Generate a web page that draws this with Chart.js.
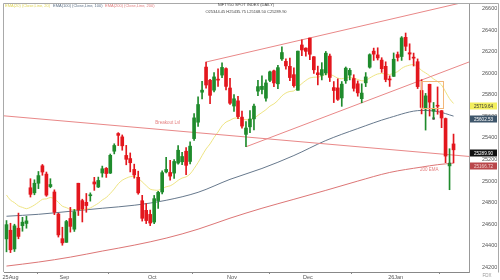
<!DOCTYPE html>
<html>
<head>
<meta charset="utf-8">
<script src="https://cdn.jsdelivr.net/npm/chart.js@4.4.1/dist/chart.umd.min.js"></script>
<style>
  html, body { margin: 0; padding: 0; background: #fff; }
  canvas { display: block; }
</style>
</head>
<body>
<canvas id="chart" width="500" height="280"></canvas>
<script>
// NIFTY 50 daily sessions, 7 Aug 2025 .. 22 Jan 2026 (session index 0..112)
const open = [
  24464,24544,24371,24563,24586,24607,24938,24891,24980,25142,25065,24949,24899,24695,24466,
  24432,24653,24554,24980,24819,24803,24864,24992,24945,25075,25118,25074,25277,25441,25410,25238,25209,25108,25035,24818,24729,24691,
  24620,24819,24899,25085,25080,25074,25167,25179,25277,25182,25394,25546,25824,26057,25935,25843,25939,25983,26043,25863,
  25696,25744,25593,25433,25503,25577,25834,25849,25769,25934,26022,25902,26133,26110,26064,25987,25842,26262,26233,
  26326,26153,26004,25981,26002,26159,25867,25864,25771,25930,25983,25951,25902,25764,25911,26056,26205,26170,26122,26064,25940,25971,
  26173,26155,26333,26190,26144,26107,25840,25669,25897,25648,25696,25653,25580,25141,25344.45
];
const high = [
  24634,24609,24600,24703,24664,24674,25022,25012,25089,25154,25084,25022,24919,24702,24572,
  24636,24756,24737,24980,24832,24885,24891,25035,25037,25139,25126,25251,25346,25449,25428,25331,25261,25157,25092,24868,24792,24731,
  24867,24904,25095,25220,25192,25199,25330,25267,25310,25365,25625,25781,25926,26104,25944,26005,26041,26097,26050,25953,
  25803,25787,25649,25551,25653,25715,25935,25975,25940,26020,26029,26074,26246,26133,26141,26051,26206,26310,26236,
  26326,26154,26066,26098,26202,26178,25923,25948,25923,26058,26044,25986,25929,25902,26006,26180,26233,26236,26144,26106,25976,26188,
  26197,26340,26373,26273,26187,26133,25940,25813,25899,25729,25873,25654,25585,25300,25435.75
];
const low = [
  24344,24337,24347,24465,24535,24563,24852,24873,24930,25054,24859,24938,24689,24481,24405,
  24432,24527,24533,24681,24621,24711,24814,24914,24940,25037,25034,25070,25252,25329,25286,25151,25085,25027,24878,24629,24606,24587,
  24605,24747,24881,25075,25009,25024,25156,25152,25060,25160,25376,25508,25763,25862,25718,25827,25877,25960,25845,25711,
  25645,25578,25491,25318,25449,25475,25792,25808,25740,25921,25876,25856,26118,26038,25930,25870,25842,26162,26158,
  26125,25998,25892,25938,25985,25923,25728,25748,25693,25906,25938,25834,25787,25726,25876,26047,26119,26123,26008,25921,25878,25970,
  26113,26119,26210,26124,26067,25858,25623,25473,25603,25580,25620,25495,25171,24920,25168.5
];
const close = [
  24596,24363,24585,24487,24619,24631,24877,24980,25051,25084,24870,24968,24712,24501,24427,
  24625,24580,24715,24734,24741,24773,24868,24973,25006,25114,25070,25239,25330,25424,25327,25202,25170,25057,24891,24655,24634,24611,
  24837,24895,25078,25108,25046,25182,25286,25228,25146,25324,25586,25710,25843,25891,25795,25966,25936,26054,25878,25722,
  25763,25598,25510,25492,25575,25695,25876,25879,25910,26013,25910,26052,26192,26068,25960,25885,26205,26216,26203,
  26176,26032,25986,26034,26186,25961,25840,25758,25899,26047,26027,25860,25818,25816,25966,26172,26177,26142,26042,25942,25938,26130,
  26146,26328,26250,26178,26140,25876,25683,25790,25732,25665,25694,25585,25232,25157,25289.9
];

// 20-day EMA for every session
const ema20 = [
  24871,24823,24800,24770,24756,24744,24757,24778,24804,24831,24835,24848,24835,24803,24767,
  24754,24737,24735,24735,24736,24739,24751,24772,24794,24825,24848,24885,24927,24975,25008,25027,25041,25042,25028,24992,24958,24925,
  24917,24915,24930,24947,24956,24978,25007,25028,25039,25066,25116,25172,25236,25298,25345,25404,25455,25512,25547,25564,
  25583,25584,25577,25569,25570,25582,25610,25636,25662,25695,25716,25748,25790,25817,25831,25836,25871,25904,25933,
  25956,25963,25965,25972,25992,25989,25975,25954,25949,25958,25965,25955,25942,25930,25933,25956,25977,25993,25998,25993,25988,26001,
  26015,26045,26064,26075,26081,26062,26026,26003,25977,25947,25923,25891,25828,25764,25719.64
];
// 100- and 200-day EMA, sampled sessions
const emaDays = [0, 8, 16, 24, 32, 40, 48, 56, 64, 72, 80, 88, 96, 104, 108, 112];
const ema100  = [24674,24692,24720,24748,24776,24822,24896,25016,25117,25237,25376,25487,25588,25655,25645,25602.53];
const ema200  = [24212,24249,24295,24351,24406,24471,24554,24656,24748,24831,24914,25000,25080,25130,25152,25166.72];

// month ticks on the time axis
const monthTickDays   = [1, 14.5, 36.5, 56.5, 75.5, 97.5];
const monthTickLabels = ['25Aug', 'Sep', 'Oct', 'Nov', 'Dec', '26Jan'];
// price ticks
const priceTicks = [24200,24400,24600,24800,25000,25200,25400,25600,25800,26000,26200,26400,26600];

// trend lines: anchor sessions and prices
const breakoutDays   = [0, 112];
const breakoutValues = [25603, 25241];
const channelTopDays = [50, 74];   // Oct 23 high -> Nov 27 high
const channelLowDays = [60, 89];   // Nov 7 low -> Dec 18 low

// consolidation box (sessions, prices)
const boxDays   = [103.75, 109.25];
const boxValues = [25930, 25681];

// marked points
const markDays   = [107, 111];
const markValues = [25580, 25160];

const X_MIN = -0.625, X_MAX = 115.875;
const UP = '#1f8b2c', DOWN = '#e3161d';
const sessions = close.map((_, i) => i);
const candleColor = sessions.map(i => close[i] >= open[i] ? UP : DOWN);

function extendLine(days, values, from, to) {
  const k = (values[1] - values[0]) / (days[1] - days[0]);
  return [from, to].map(x => ({ x, y: values[0] + k * (x - days[0]) }));
}
const last = close.length - 1;

const FONT = '"Liberation Sans", Arial, sans-serif';
Chart.defaults.font.family = FONT;

const overlay = {
  id: 'overlay',
  beforeDraw(chart) {
    const { ctx, width, height } = chart;
    ctx.save();
    ctx.fillStyle = '#fff';
    ctx.fillRect(0, 0, width, height);
    ctx.restore();
  },
  afterDatasetsDraw(chart) {
    const { ctx, scales: { x, y } } = chart;
    ctx.save();
    // consolidation box
    ctx.strokeStyle = '#f2b679';
    ctx.lineWidth = 1;
    const bx0 = Math.round(x.getPixelForValue(boxDays[0])) + 0.5;
    const bx1 = Math.round(x.getPixelForValue(boxDays[1])) + 0.5;
    const by0 = Math.round(y.getPixelForValue(boxValues[0])) + 0.5;
    const by1 = Math.round(y.getPixelForValue(boxValues[1])) + 0.5;
    ctx.strokeRect(bx0, by0, bx1 - bx0, by1 - by0);

    // line captions
    ctx.fillStyle = '#e58080';
    ctx.font = '4.5px ' + FONT;
    ctx.textAlign = 'center';
    ctx.textBaseline = 'middle';
    ctx.fillText('Breakout Lvl', x.getPixelForValue(40.4), y.getPixelForValue(25542));
    ctx.fillText('200 EMA', x.getPixelForValue(105.9), y.getPixelForValue(25103));
    ctx.restore();
  },
  afterDraw(chart) {
    const { ctx, chartArea: a, scales: { y } } = chart;
    ctx.save();
    // frame
    ctx.strokeStyle = '#a9a9a9';
    ctx.lineWidth = 1;
    ctx.beginPath();
    ctx.moveTo(a.left - 0.5, a.bottom);
    ctx.lineTo(a.left - 0.5, a.top - 0.5);
    ctx.lineTo(498.5, a.top - 0.5);
    ctx.lineTo(498.5, a.bottom + 0.5);
    ctx.stroke();

    // legend line
    ctx.font = '4px ' + FONT;
    ctx.textBaseline = 'middle';
    ctx.textAlign = 'left';
    [['EMA(20) (Close,Line, 20)', '#e0d65a', 5],
     ['EMA(100) (Close,Line, 100)', '#5b6f86', 53],
     ['EMA(200) (Close,Line, 200)', '#e07b7b', 105]].forEach(([t, c, px]) => {
      ctx.fillStyle = c;
      ctx.fillText(t, px, 6);
    });

    // title and last session values
    ctx.fillStyle = '#444';
    ctx.textAlign = 'center';
    ctx.fillText('NIFTY50 SPOT INDEX (DAILY)', 246, 5);
    const f = v => v.toFixed(2);
    ctx.fillText(`O${f(open[last])} H${f(high[last])} L${f(low[last])} C${f(close[last])}`, 246, 12);

    // value flags on the price axis
    const flags = [
      [ema20[ema20.length - 1], '#f2ee5e', '#333'],
      [ema100[ema100.length - 1], '#3e566b', '#fff'],
      [close[last], '#111', '#fff'],
      [ema200[ema200.length - 1], '#b9474a', '#f3d0d0']
    ];
    ctx.font = '4.6px ' + FONT;
    flags.forEach(([v, bg, fg]) => {
      const cy = Math.round(y.getPixelForValue(v)) + 3;
      ctx.fillStyle = bg;
      ctx.fillRect(a.right + 1, cy - 3.5, 27, 7);
      ctx.fillStyle = fg;
      ctx.fillText(f(v), a.right + 14.5, cy + 0.3);
    });

    // corner mark
    ctx.fillStyle = '#999';
    ctx.font = '4.5px ' + FONT;
    ctx.fillText('FDX', 487, 276);
    ctx.restore();
  }
};

new Chart(document.getElementById('chart'), {
  type: 'bar',
  data: {
    datasets: [
      {
        type: 'bar', label: 'body', order: 0, grouped: false,
        data: sessions.map(i => ({ x: i, y: [open[i], close[i]] })),
        backgroundColor: candleColor, barThickness: 3, minBarLength: 1, borderWidth: 0
      },
      {
        type: 'bar', label: 'wick', order: 1, grouped: false,
        data: sessions.map(i => ({ x: i, y: [low[i], high[i]] })),
        backgroundColor: candleColor, barThickness: 1, borderWidth: 0
      },
      {
        type: 'scatter', label: 'marks', order: 2,
        data: markDays.map((d, k) => ({ x: d, y: markValues[k] })),
        pointStyle: 'rect', pointRadius: 1.6, backgroundColor: '#222', borderWidth: 0
      },
      {
        type: 'line', label: 'Breakout', order: 3,
        data: extendLine(breakoutDays, breakoutValues, X_MIN, X_MAX),
        borderColor: '#e98888', borderWidth: 1, pointRadius: 0
      },
      {
        type: 'line', label: 'Channel top', order: 3,
        data: extendLine(channelTopDays, channelTopDays.map(d => high[d]), channelTopDays[0], X_MAX),
        borderColor: '#e98888', borderWidth: 1, pointRadius: 0
      },
      {
        type: 'line', label: 'Channel bottom', order: 3,
        data: extendLine(channelLowDays, channelLowDays.map(d => low[d]), channelLowDays[0], X_MAX),
        borderColor: '#e98888', borderWidth: 1, pointRadius: 0
      },
      {
        type: 'line', label: 'EMA(20)', order: 4,
        data: sessions.map(i => ({ x: i, y: ema20[i] })),
        borderColor: '#efe583', borderWidth: 1, pointRadius: 0, tension: 0.3
      },
      {
        type: 'line', label: 'EMA(100)', order: 4,
        data: emaDays.map((d, k) => ({ x: d, y: ema100[k] })),
        borderColor: '#67798d', borderWidth: 1, pointRadius: 0, cubicInterpolationMode: 'monotone'
      },
      {
        type: 'line', label: 'EMA(200)', order: 4,
        data: emaDays.map((d, k) => ({ x: d, y: ema200[k] })),
        borderColor: '#dd7676', borderWidth: 1, pointRadius: 0, cubicInterpolationMode: 'monotone'
      }
    ]
  },
  options: {
    responsive: false,
    animation: false,
    devicePixelRatio: 1,
    events: [],
    layout: { padding: { left: 3, top: 3, right: 0, bottom: 0 } },
    plugins: { legend: { display: false }, tooltip: { enabled: false } },
    scales: {
      x: {
        type: 'linear', min: X_MIN, max: X_MAX, offset: false,
        afterBuildTicks: s => { s.ticks = monthTickDays.map(v => ({ value: v })); },
        afterFit: s => { s.height = 8; s.paddingLeft = 0; s.paddingRight = 0; },
        ticks: {
          autoSkip: false, maxRotation: 0, padding: 0, color: '#555',
          font: { size: 5.5 },
          callback: (v, idx) => monthTickLabels[idx]
        },
        grid: { display: true, drawOnChartArea: false, tickLength: 2, color: '#888' },
        border: { display: true, color: '#888' }
      },
      y: {
        type: 'linear', position: 'right', min: 24157, max: 26642,
        afterBuildTicks: s => { s.ticks = priceTicks.map(v => ({ value: v })); },
        afterFit: s => { s.width = 31; s.paddingTop = 0; s.paddingBottom = 0; },
        ticks: { padding: 5, color: '#555', font: { size: 5.5 }, callback: v => String(v) },
        grid: { display: false },
        border: { display: true, color: '#999' }
      }
    }
  },
  plugins: [overlay]
});
</script>
</body>
</html>
